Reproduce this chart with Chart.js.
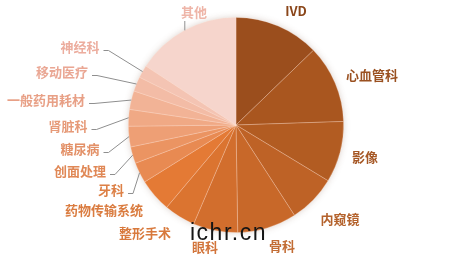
<!DOCTYPE html>
<html>
<head>
<meta charset="utf-8">
<script src="https://cdn.jsdelivr.net/npm/chart.js@4/dist/chart.umd.min.js"></script>
<style>
  html, body { margin: 0; padding: 0; background: #ffffff; }
  #wrap { width: 450px; height: 255px; position: relative; }
  canvas { display: block; }
</style>
</head>
<body>
<div id="wrap"><canvas id="c" width="450" height="255"></canvas></div>
<script>
// ---- data ----
const categories = ['IVD', '心血管科', '影像', '内窥镜', '骨科', '眼科', '整形手术', '药物传输系统',
                    '牙科', '创面处理', '糖尿病', '肾脏科', '一般药用耗材', '移动医疗', '神经科', '其他'];
const shares = [12.8, 11.7, 9.2, 7.2, 8.9, 6.7, 4.7, 5.0, 3.1, 2.5, 3.1, 2.5, 2.8, 2.2, 1.9, 15.8];

// ---- styles ----
const sliceColors = ['#9B4E1D', '#A9561F', '#B25C22', '#BE6226', '#C86829', '#D26E2D', '#DB7430', '#E47A35',
                     '#E88A52', '#EB9462', '#EE9F75', '#F0A985', '#F2B396', '#F3BCA6', '#F4C4B3', '#F6D5CC'];
const labelColors = ['#8A461A', '#9A5020', '#A65826', '#B4622C', '#C26C34', '#D2743A', '#D8793C', '#DA7C40',
                     '#DD8046', '#E08856', '#E39168', '#E69A78', '#E8A086', '#EAA794', '#ECAD9E', '#EEB5A8'];
// label text centres relative to the pie centre, and leader style
const labelOffsets = [[60,-114],[136,-50],[129,32],[104,94],[46,121],[-31,122],[-91,108],[-132,85],
                      [-125,65],[-156,46],[-156,24],[-168,1],[-190,-25],[-174,-53],[-156,-78],[-42,-113]];
const leaderKinds = ['', '', '', '', '', '', '', '', 'side', 'side', 'side', 'side', 'side', 'side', 'side', 'below'];
const labelFont = 'bold 13px "Noto Sans CJK SC", "Noto Sans", sans-serif';

const shadowPlugin = {
  id: 'pieShadow',
  beforeDatasetsDraw(chart) {
    const arc = chart.getDatasetMeta(0).data[0];
    if (!arc) return;
    const p = arc.getProps(['x', 'y', 'outerRadius'], true);
    const ctx = chart.ctx;
    ctx.save();
    ctx.shadowColor = 'rgba(120,80,60,0.30)';
    ctx.shadowBlur = 7;
    ctx.fillStyle = '#f3d2c8';
    ctx.beginPath();
    ctx.arc(p.x, p.y, p.outerRadius - 0.5, 0, Math.PI * 2);
    ctx.fill();
    ctx.restore();
  }
};

const labelPlugin = {
  id: 'sliceLabels',
  afterDatasetsDraw(chart) {
    const ctx = chart.ctx;
    const meta = chart.getDatasetMeta(0);
    ctx.save();
    ctx.font = labelFont;
    ctx.textAlign = 'center';
    ctx.textBaseline = 'middle';
    meta.data.forEach((el, i) => {
      const p = el.getProps(['x', 'y', 'startAngle', 'endAngle', 'outerRadius'], true);
      const mid = (p.startAngle + p.endAngle) / 2;
      const ex = p.x + Math.cos(mid) * p.outerRadius;
      const ey = p.y + Math.sin(mid) * p.outerRadius;
      const tx = p.x + labelOffsets[i][0];
      const ty = p.y + labelOffsets[i][1];
      const w = ctx.measureText(categories[i]).width;
      ctx.strokeStyle = '#8f8f8f';
      ctx.lineWidth = 1;
      if (leaderKinds[i] === 'side') {
        const sx = tx + w / 2 + 4;
        const sy = ty + 3.5;
        ctx.beginPath();
        ctx.moveTo(sx, sy);
        ctx.lineTo(sx + 5, sy);
        ctx.lineTo(ex, ey);
        ctx.stroke();
      } else if (leaderKinds[i] === 'below') {
        ctx.beginPath();
        ctx.moveTo(ex, ty + 9);
        ctx.lineTo(ex, ey);
        ctx.stroke();
      }
      ctx.fillStyle = labelColors[i];
      ctx.fillText(categories[i], tx, ty);
    });
    // watermark
    ctx.font = '23px "Liberation Sans", Arial, sans-serif';
    ctx.textAlign = 'left';
    ctx.textBaseline = 'alphabetic';
    ctx.fillStyle = '#151515';
    try { ctx.letterSpacing = '1.5px'; } catch (e) {}
    ctx.fillText('ichr.cn', 190, 240);
    ctx.restore();
  }
};

new Chart(document.getElementById('c'), {
  type: 'pie',
  data: {
    labels: categories,
    datasets: [{
      data: shares,
      backgroundColor: sliceColors,
      borderColor: 'rgba(255,230,215,0.35)',
      borderWidth: 0.8
    }]
  },
  options: {
    responsive: false,
    animation: false,
    layout: { padding: { top: 17, bottom: 22, left: 128, right: 106 } },
    plugins: {
      legend: { display: false },
      tooltip: { enabled: false }
    }
  },
  plugins: [shadowPlugin, labelPlugin]
});
</script>
</body>
</html>
